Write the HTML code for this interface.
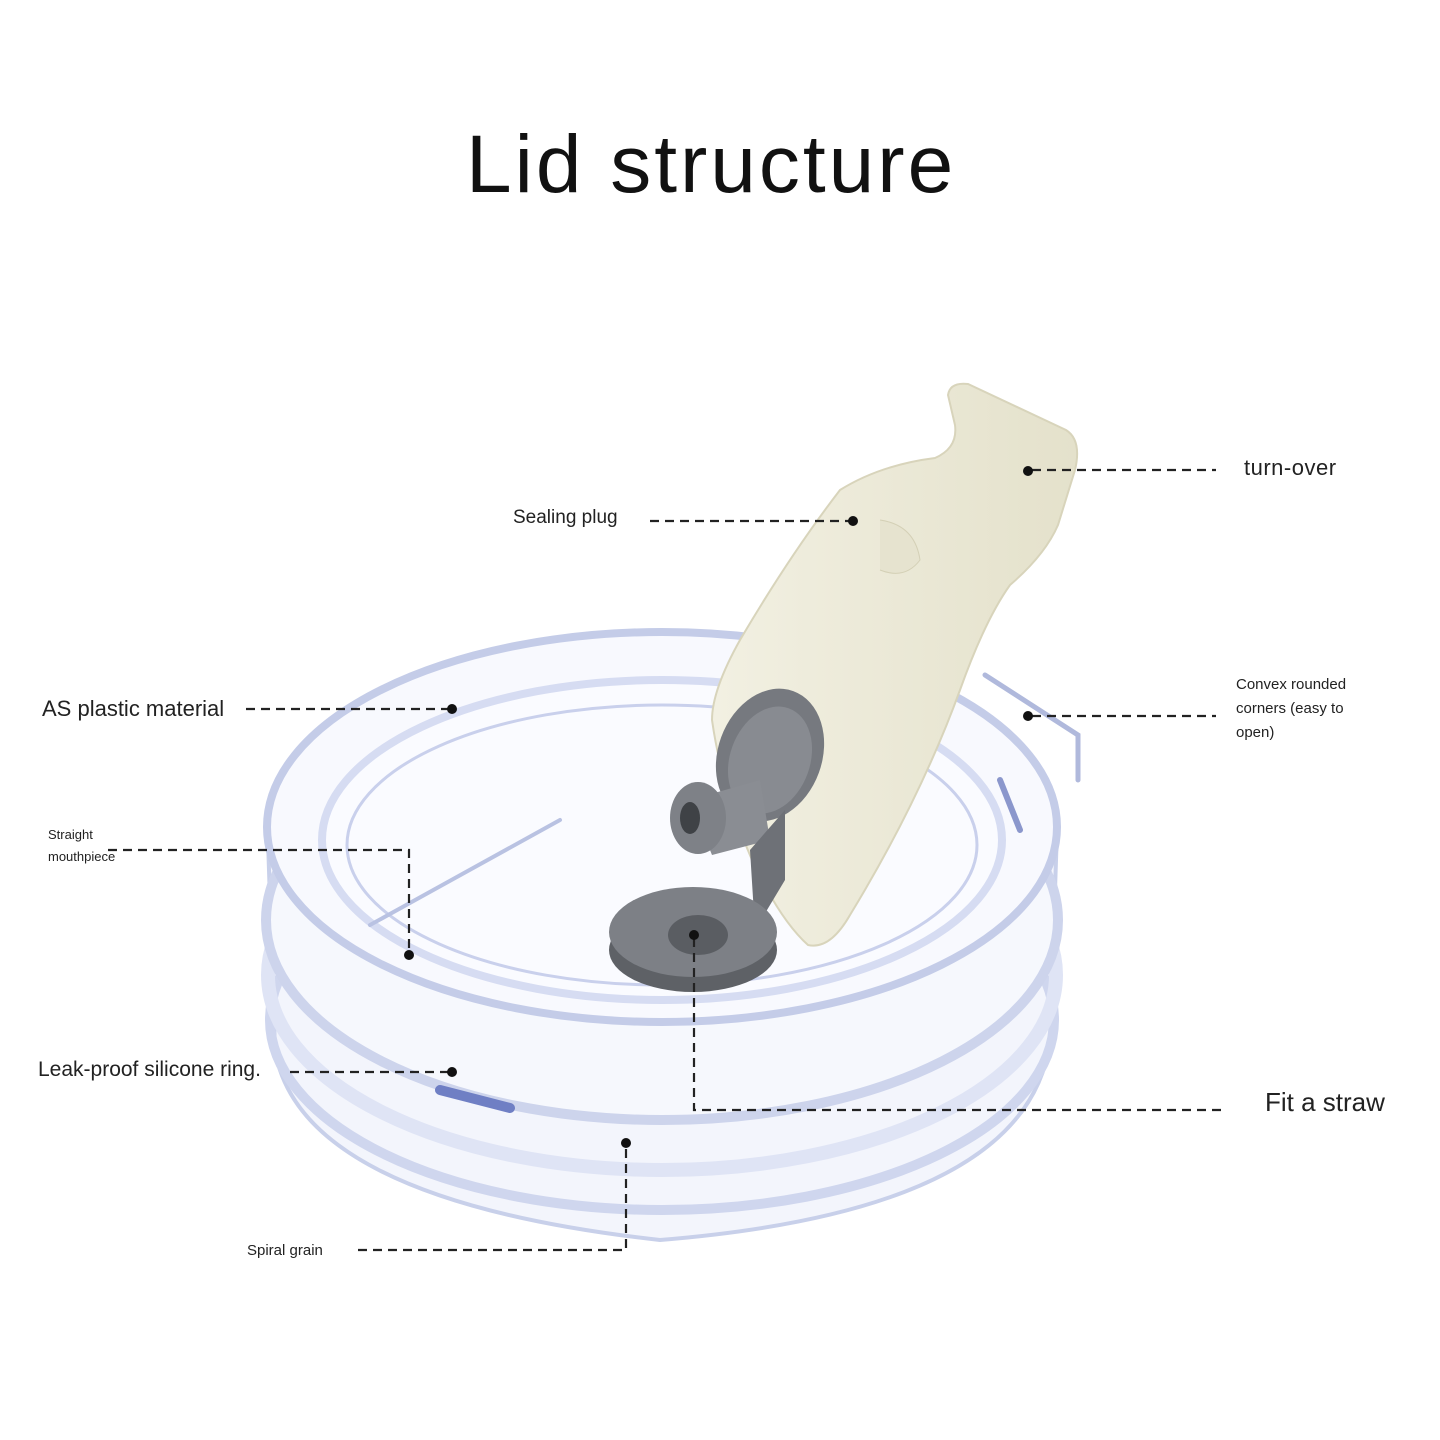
<!DOCTYPE html>
<html><head><style>
body{margin:0;width:1440px;height:1440px;background:#fff;overflow:hidden;position:relative;font-family:"Liberation Sans",sans-serif;color:#222}
.t{position:absolute;white-space:nowrap}
</style></head><body>
<div class="t" style="left:466px;top:118px;font-size:82px;font-weight:300;letter-spacing:3px;color:#111">Lid structure</div>
<svg width="1440" height="1440" style="position:absolute;left:0;top:0">
<defs>
<linearGradient id="fl" x1="0" y1="0" x2="1" y2="0"><stop offset="0" stop-color="#f2f0e2"/><stop offset="1" stop-color="#e4e1cb"/></linearGradient>
</defs>
<g fill="none" stroke-linecap="round">
<path d="M268 840 L275 1050 Q300 1200 660 1240 Q1030 1210 1050 1040 L1057 830" fill="#f3f5fc" stroke="#c8d0ea" stroke-width="4"/>
<ellipse cx="662" cy="1020" rx="392" ry="190" stroke="#cfd6ee" stroke-width="10"/>
<ellipse cx="662" cy="975" rx="394" ry="195" stroke="#dfe4f5" stroke-width="14"/>
<ellipse cx="662" cy="920" rx="396" ry="200" fill="#f6f8fd" stroke="#cdd4ec" stroke-width="10"/>
<ellipse cx="662" cy="827" rx="395" ry="195" fill="#f8f9fe" stroke="#c4cce8" stroke-width="8"/>
<ellipse cx="662" cy="840" rx="340" ry="160" fill="#fafbff" stroke="#d6dcf2" stroke-width="8"/>
<ellipse cx="662" cy="845" rx="315" ry="140" stroke="#c9d0ec" stroke-width="3"/>
<path d="M370 925 L560 820" stroke="#b9c2e2" stroke-width="4"/>
<path d="M440 1090 L510 1108" stroke="#6f7fc4" stroke-width="10"/>
<path d="M985 675 L1078 735 L1078 780" stroke="#b0b9dc" stroke-width="5"/>
<path d="M1000 780 L1020 830" stroke="#8b97cc" stroke-width="6"/>
</g>
<path d="M948 395 Q950 382 968 384 L1066 430 Q1082 440 1075 470 L1058 525 Q1045 555 1010 585 Q985 620 960 690 Q920 800 850 915 Q830 950 808 945 Q780 920 752 860 Q722 790 712 720 Q712 690 740 640 Q790 555 840 490 Q880 465 935 458 Q958 448 955 425 Z" fill="url(#fl)" stroke="#d8d4bb" stroke-width="2"/>
<path d="M880 520 Q915 525 920 560 Q905 580 880 570" fill="#e6e3cf" stroke="#d4d0b6"/>
<ellipse cx="770" cy="755" rx="52" ry="68" fill="#76797f" transform="rotate(20 770 755)"/>
<ellipse cx="770" cy="760" rx="40" ry="55" fill="#888b91" transform="rotate(20 770 760)"/>
<path d="M690 800 L760 780 L770 840 L712 855 Z" fill="#8a8d93"/>
<ellipse cx="698" cy="818" rx="28" ry="36" fill="#7e8187"/>
<ellipse cx="690" cy="818" rx="10" ry="16" fill="#3f4246"/>
<path d="M750 850 L785 810 L785 880 L755 930 Z" fill="#6e7177"/>
<ellipse cx="693" cy="950" rx="84" ry="42" fill="#5e6166"/>
<ellipse cx="693" cy="932" rx="84" ry="45" fill="#7d8086"/>
<ellipse cx="698" cy="935" rx="30" ry="20" fill="#5a5d62"/>
<g stroke="#222" stroke-width="2.2" stroke-dasharray="9 6" fill="none">
<path d="M1032 470 H1216"/>
<path d="M650 521 H850"/>
<path d="M246 709 H448"/>
<path d="M1032 716 H1216"/>
<path d="M108 850 H409 V952"/>
<path d="M290 1072 H448"/>
<path d="M694 938 V1110 H1224"/>
<path d="M358 1250 H626 V1146"/>
</g>
<g fill="#111">
<circle cx="1028" cy="471" r="5"/><circle cx="853" cy="521" r="5"/><circle cx="452" cy="709" r="5"/>
<circle cx="1028" cy="716" r="5"/><circle cx="409" cy="955" r="5"/><circle cx="452" cy="1072" r="5"/>
<circle cx="694" cy="935" r="5"/><circle cx="626" cy="1143" r="5"/>
</g>
</svg>
<div class="t" style="left:1244px;top:455px;font-size:22px;letter-spacing:0.5px">turn-over</div>
<div class="t" style="left:513px;top:507px;font-size:19px">Sealing plug</div>
<div class="t" style="left:42px;top:696px;font-size:22px">AS plastic material</div>
<div class="t" style="left:1236px;top:673px;font-size:15px;line-height:24px">Convex rounded<br>corners (easy to<br>open)</div>
<div class="t" style="left:48px;top:824px;font-size:13px;line-height:22px">Straight<br>mouthpiece</div>
<div class="t" style="left:38px;top:1058px;font-size:21px">Leak-proof silicone ring.</div>
<div class="t" style="left:1265px;top:1087px;font-size:26px">Fit a straw</div>
<div class="t" style="left:247px;top:1242px;font-size:15px">Spiral grain</div>
</body></html>
